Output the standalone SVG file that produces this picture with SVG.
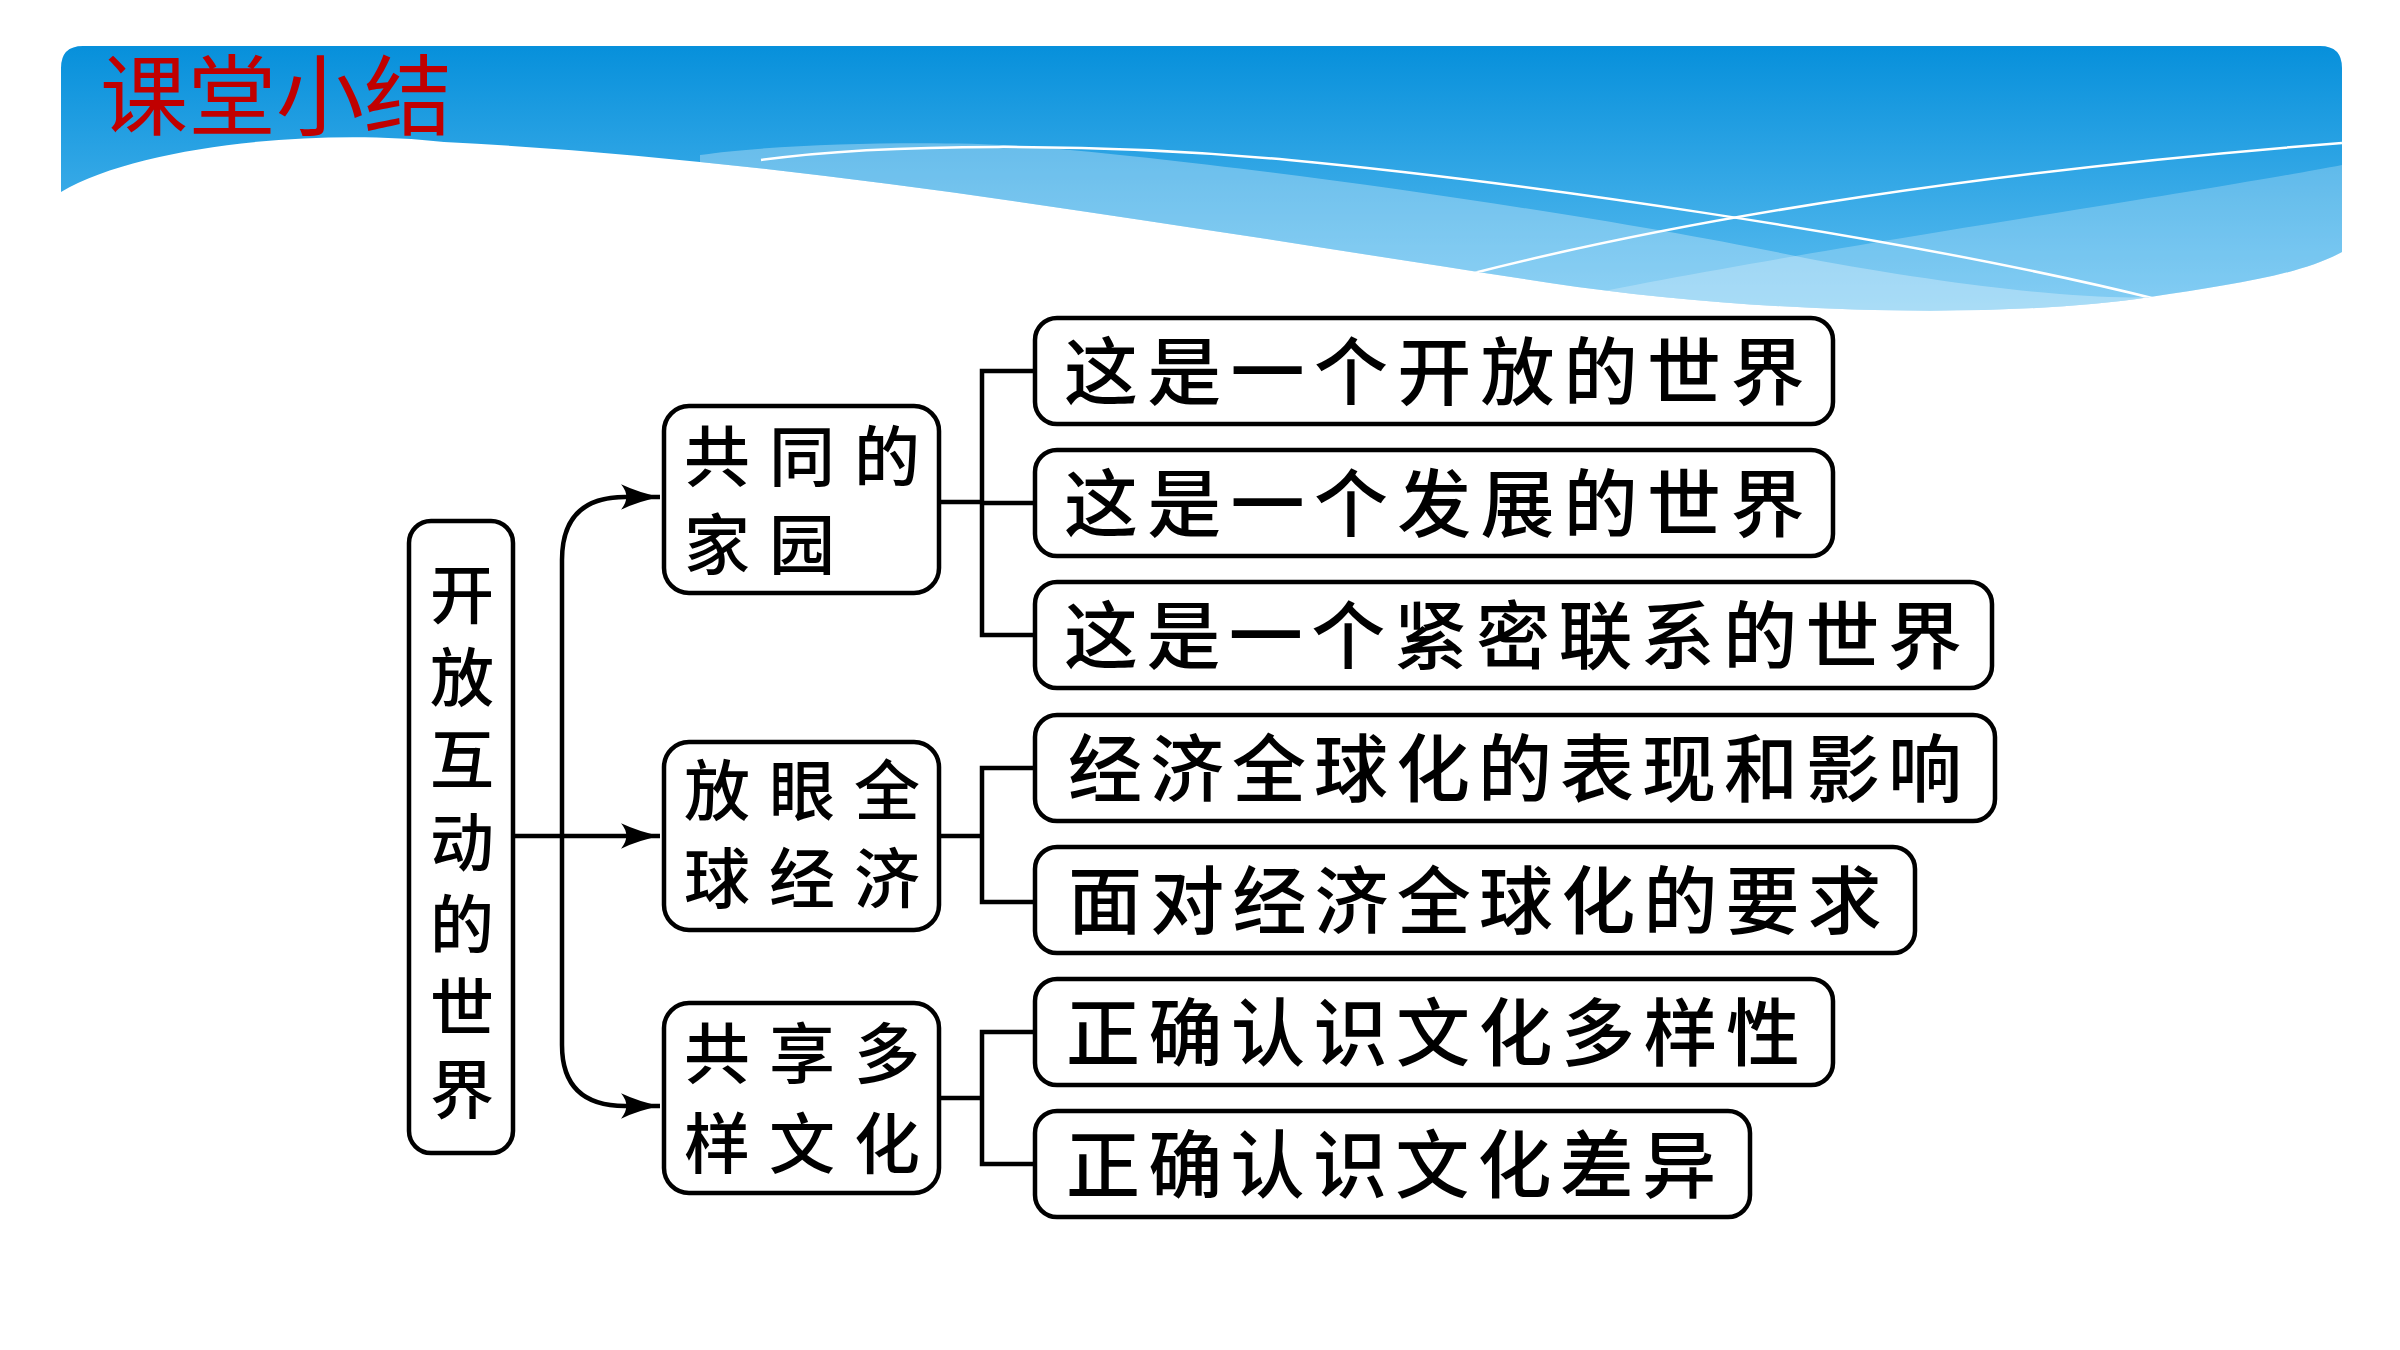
<svg xmlns="http://www.w3.org/2000/svg" width="2400" height="1350" viewBox="0 0 2400 1350">
  <defs>
    <linearGradient id="bandGrad" x1="0" y1="46" x2="0" y2="310" gradientUnits="userSpaceOnUse">
      <stop offset="0" stop-color="#0790DB"/>
      <stop offset="1" stop-color="#5EBEF0"/>
    </linearGradient>
    <clipPath id="bandClip">
      <path d="M61,192 L61,68 Q61,46 83,46 L2320,46 Q2342,46 2342,68 L2342,252 C2300,275 2230,285 2150,297 C2000,320 1750,313 1550,283 C1150,222 800,160 444,142 C320,128 140,145 61,192 Z"/>
    </clipPath>
    <marker id="arr" markerUnits="userSpaceOnUse" markerWidth="40" markerHeight="28" viewBox="0 0 38 26" refX="37" refY="13" orient="auto">
      <path d="M0,1 Q17,9 37,13 Q17,17 0,25 Q10,13 0,1 Z" fill="#000"/>
    </marker>
    <style>
      .box { fill: #fff; stroke: #000; stroke-width: 4.5; }
      .t { font-family: "Noto Sans CJK SC", "Noto Sans CJK TC", sans-serif; font-weight: 500; fill: #000; }
      .t1 { font-size: 64px; letter-spacing: 18.5px; writing-mode: vertical-rl; }
      .t2 { font-size: 66px; letter-spacing: 19px; }
      .t3 { font-size: 74px; }
      .con { fill: none; stroke: #000; stroke-width: 4.5; }
      .wl { fill: none; stroke: #fff; stroke-width: 2.5; }
    </style>
  </defs>

  <g id="header">
    <g clip-path="url(#bandClip)">
      <rect x="61" y="46" width="2281" height="270" fill="url(#bandGrad)"/>
      <path d="M700,155 C780,143 950,140 1036,147 C1250,165 1600,215 1805,258 C1950,285 2080,300 2150,297 L2150,400 L700,400 Z" fill="#fff" fill-opacity="0.3"/>
      <path d="M1560,300 C1700,270 1950,230 2093,207 C2200,190 2290,175 2342,165 L2342,400 L1560,400 Z" fill="#fff" fill-opacity="0.24"/>
      <path class="wl" d="M761,160 C880,143 1100,142 1289,160 C1500,180 1900,235 2160,300"/>
      <path class="wl" d="M1470,274 C1700,215 2000,170 2342,143"/>
    </g>
    <text x="100" y="128" font-family="'Noto Sans CJK SC', sans-serif" font-size="88" fill="#C00000">课堂小结</text>
  </g>

  <g id="connectors">
    <path class="con" d="M513,836 L660,836" marker-end="url(#arr)"/>
    <path class="con" d="M562,836 L562,560 Q562,497 625,497 L660,497" marker-end="url(#arr)"/>
    <path class="con" d="M562,836 L562,1045 Q562,1106 625,1106 L660,1106" marker-end="url(#arr)"/>
    <path class="con" d="M939,502 L982,502 M1035,371 L982,371 L982,635 L1035,635 M982,503 L1035,503"/>
    <path class="con" d="M939,836 L982,836 M1035,768 L982,768 L982,902 L1035,902"/>
    <path class="con" d="M939,1098 L982,1098 M1035,1032 L982,1032 L982,1164 L1035,1164"/>
  </g>

  <g id="root">
    <rect class="box" x="409" y="521" width="104" height="632" rx="22"/>
    <text class="t t1" x="462" y="562">开放互动的世界</text>
  </g>

  <g id="home">
    <rect class="box" x="664" y="406" width="275" height="187" rx="25"/>
    <text class="t t2"><tspan x="684" y="481">共同的</tspan><tspan x="684" y="569">家园</tspan></text>
  </g>
  <g id="economy">
    <rect class="box" x="664" y="742" width="275" height="188" rx="25"/>
    <text class="t t2"><tspan x="684" y="815">放眼全</tspan><tspan x="684" y="903">球经济</tspan></text>
  </g>
  <g id="culture">
    <rect class="box" x="664" y="1003" width="275" height="190" rx="25"/>
    <text class="t t2"><tspan x="684" y="1078">共享多</tspan><tspan x="684" y="1168">样文化</tspan></text>
  </g>

  <g id="n1">
    <rect class="box" x="1035" y="318" width="798" height="106" rx="22"/>
    <text class="t t3" x="1064" y="399" letter-spacing="9.3">这是一个开放的世界</text>
  </g>
  <g id="n2">
    <rect class="box" x="1035" y="450" width="798" height="106" rx="22"/>
    <text class="t t3" x="1064" y="531" letter-spacing="9.3">这是一个发展的世界</text>
  </g>
  <g id="n3">
    <rect class="box" x="1035" y="582" width="957" height="106" rx="22"/>
    <text class="t t3" x="1064" y="663" letter-spacing="8.4">这是一个紧密联系的世界</text>
  </g>
  <g id="n4">
    <rect class="box" x="1035" y="715" width="960" height="106" rx="22"/>
    <text class="t t3" x="1068" y="796" letter-spacing="8">经济全球化的表现和影响</text>
  </g>
  <g id="n5">
    <rect class="box" x="1035" y="847" width="880" height="106" rx="22"/>
    <text class="t t3" x="1068" y="928" letter-spacing="8.2">面对经济全球化的要求</text>
  </g>
  <g id="n6">
    <rect class="box" x="1035" y="979" width="798" height="106" rx="22"/>
    <text class="t t3" x="1066" y="1060" letter-spacing="8.5">正确认识文化多样性</text>
  </g>
  <g id="n7">
    <rect class="box" x="1035" y="1111" width="715" height="106" rx="22"/>
    <text class="t t3" x="1066" y="1192" letter-spacing="8.3">正确认识文化差异</text>
  </g>
</svg>
